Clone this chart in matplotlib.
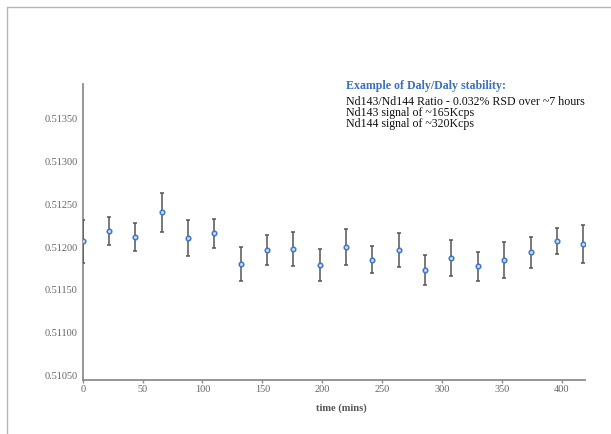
import matplotlib
matplotlib.use('Agg')
import matplotlib.pyplot as plt
from matplotlib.patches import Rectangle
from matplotlib.ticker import FormatStrFormatter

# data
time_mins = [0, 22, 44, 66, 88, 110, 132, 154, 176, 198,
             220, 242, 264, 286, 308, 330, 352, 374, 396, 418]
ratio = [0.512065, 0.512186, 0.512116, 0.512403, 0.512108, 0.512159, 0.511802,
         0.511965, 0.511977, 0.511790, 0.512003, 0.511852, 0.511965, 0.511732,
         0.511872, 0.511774, 0.511852, 0.511937, 0.512070, 0.512035]
ratio_err = [0.00025, 0.00016, 0.000163, 0.00023, 0.00021, 0.00017, 0.0002,
             0.000175, 0.0002, 0.00019, 0.00021, 0.00016, 0.0002, 0.000175,
             0.00021, 0.00017, 0.00021, 0.00018, 0.00015, 0.00022]
y_ticks = [0.5105, 0.5110, 0.5115, 0.5120, 0.5125, 0.5130, 0.5135]
x_ticks = [0, 50, 100, 150, 200, 250, 300, 350, 400]

title_text = 'Example of Daly/Daly stability:'
note_lines = ['Nd143/Nd144 Ratio - 0.032% RSD over ~7 hours',
              'Nd143 signal of ~165Kcps',
              'Nd144 signal of ~320Kcps']

plt.rcParams['font.family'] = ['Liberation Serif', 'DejaVu Serif']

W, H = 611, 434
fig = plt.figure(figsize=(W / 100, H / 100), dpi=100)

# light frame round the chart area (runs off right and bottom edges)
fig.patches.append(Rectangle((7 / W, -0.1), 1.2, (H - 7) / H + 0.1,
                             transform=fig.transFigure, fill=False,
                             edgecolor='#b4b4b4', linewidth=1.0))

ax = fig.add_axes([82.7 / W, 54 / H, (585 - 82.7) / W, (380 - 84) / H])

ax.errorbar(time_mins, ratio, yerr=ratio_err, fmt='o', color='#3f78c4',
            markersize=3.3, markerfacecolor='#c9daf2', markeredgewidth=1.1,
            ecolor='#555555', elinewidth=1.1, capsize=1.5, capthick=1.0,
            zorder=3)

ax.set_xlim(0, 419.5)
ax.set_ylim(0.51045, 0.51390)
ax.set_xticks(x_ticks)
ax.set_yticks(y_ticks)
ax.yaxis.set_major_formatter(FormatStrFormatter('%.5f'))

for side in ['top', 'right']:
    ax.spines[side].set_visible(False)
for side in ['left', 'bottom']:
    ax.spines[side].set_color('#8c8c8c')
    ax.spines[side].set_linewidth(1.3)

ax.tick_params(axis='y', length=0, pad=3.5, labelsize=7.4, labelcolor='#666666')
ax.tick_params(axis='x', length=2.5, width=1, color='#8c8c8c', pad=1,
               labelsize=7.4, labelcolor='#666666')

ax.set_xlabel('time (mins)', fontsize=7.6, fontweight='bold', color='#555555',
              labelpad=6)
ax.xaxis.set_label_coords(0.514, -0.08)

fig.text(346 / W, 1 - 86 / H, title_text, fontsize=8.6, fontweight='bold',
         color='#3a70c0', va='center', ha='left')
for i, line in enumerate(note_lines):
    fig.text(346 / W, 1 - (102.3 + i * 10.8) / H, line, fontsize=8.6,
             color='#111111', va='center', ha='left')

fig.savefig('out.png', dpi=100)
